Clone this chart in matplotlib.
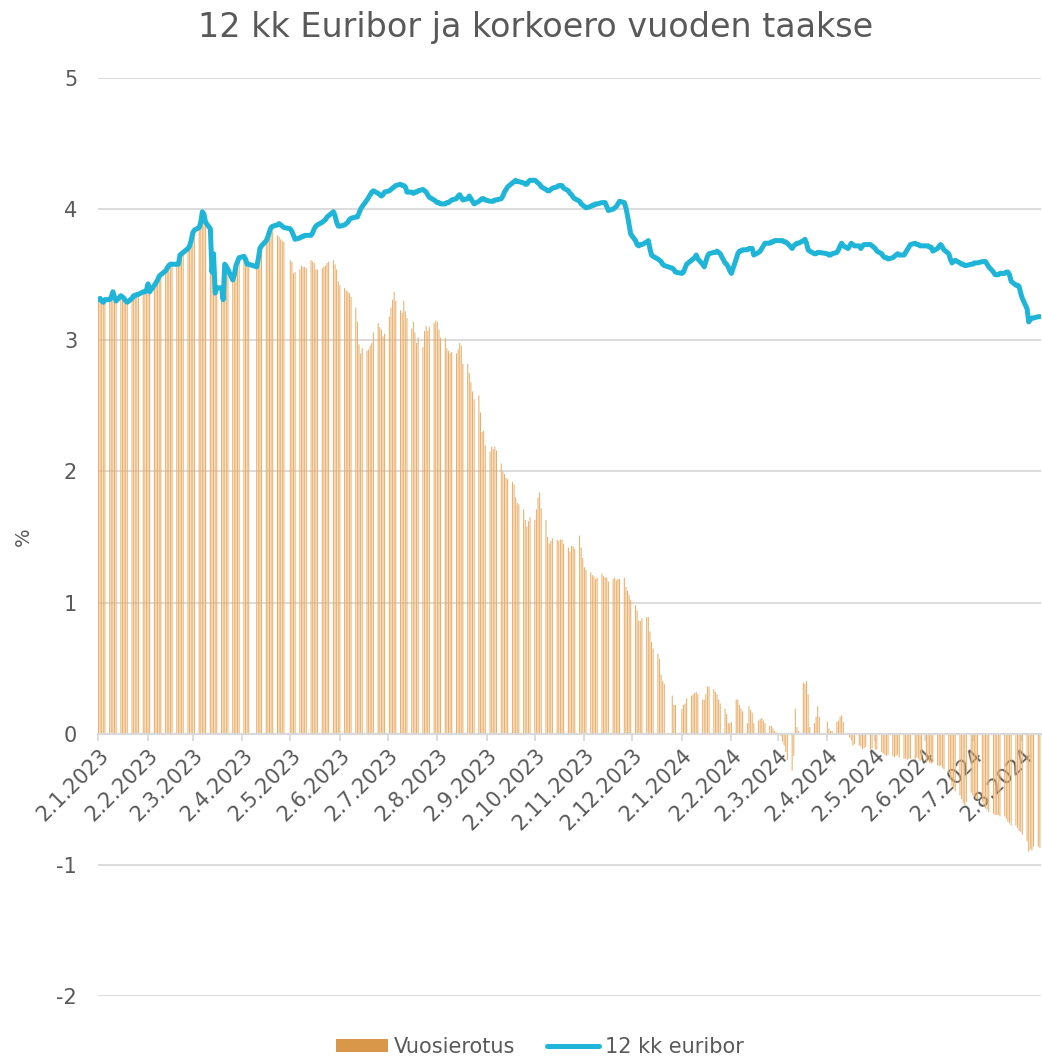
import matplotlib
matplotlib.use("Agg")
import matplotlib.pyplot as plt
import matplotlib.dates as mdates
from matplotlib.lines import Line2D
from matplotlib.patches import Patch
import numpy as np
import pandas as pd

# TARGET holidays (no fixing published)
holidays = ["2023-04-07", "2023-04-10", "2023-05-01", "2023-12-25", "2023-12-26",
            "2024-01-01", "2024-03-29", "2024-04-01", "2024-05-01"]
start_date = "2023-01-02"
end_date = "2024-08-13"

# 12 kk euribor, one value per fixing day (month per line)
euribor_2023 = [
    3.31, 3.32, 3.30, 3.29, 3.31, 3.31, 3.33, 3.37, 3.33, 3.30, 3.34, 3.33, 3.32, 3.30, 3.29, 3.32, 3.34, 3.34, 3.35, 3.35, 3.37, 3.37,
    3.38, 3.43, 3.37, 3.42, 3.44, 3.46, 3.49, 3.50, 3.53, 3.55, 3.57, 3.58, 3.58, 3.58, 3.58, 3.65, 3.66, 3.67, 3.70, 3.72,
    3.76, 3.82, 3.84, 3.86, 3.90, 3.98, 3.96, 3.90, 3.85, 3.52, 3.66, 3.36, 3.40, 3.40, 3.31, 3.58, 3.56, 3.54, 3.46, 3.50, 3.57, 3.60, 3.63,
    3.64, 3.62, 3.58, 3.58, 3.56, 3.62, 3.70, 3.72, 3.76, 3.79, 3.83, 3.86, 3.87, 3.88, 3.89, 3.88, 3.87, 3.86,
    3.85, 3.83, 3.80, 3.77, 3.78, 3.79, 3.79, 3.80, 3.80, 3.80, 3.82, 3.85, 3.87, 3.88, 3.90, 3.91, 3.92, 3.94, 3.95, 3.98, 3.95, 3.90,
    3.87, 3.87, 3.88, 3.89, 3.90, 3.92, 3.93, 3.94, 3.94, 3.97, 4.00, 4.02, 4.07, 4.09, 4.11, 4.13, 4.14, 4.12, 4.11, 4.10, 4.11, 4.13,
    4.14, 4.15, 4.16, 4.17, 4.18, 4.19, 4.18, 4.18, 4.17, 4.13, 4.13, 4.12, 4.13, 4.13, 4.14, 4.15, 4.14, 4.13, 4.11, 4.09, 4.07,
    4.06, 4.05, 4.05, 4.04, 4.04, 4.05, 4.05, 4.06, 4.07, 4.08, 4.10, 4.11, 4.09, 4.07, 4.08, 4.10, 4.08, 4.06, 4.04, 4.06, 4.07, 4.08, 4.08,
    4.07, 4.06, 4.06, 4.06, 4.07, 4.07, 4.08, 4.10, 4.13, 4.15, 4.17, 4.20, 4.21, 4.22, 4.21, 4.21, 4.20, 4.19, 4.19, 4.21, 4.22,
    4.22, 4.21, 4.20, 4.19, 4.17, 4.15, 4.14, 4.14, 4.15, 4.16, 4.17, 4.18, 4.18, 4.18, 4.16, 4.14, 4.12, 4.11, 4.09, 4.08, 4.06, 4.04,
    4.03, 4.02, 4.01, 4.02, 4.03, 4.03, 4.04, 4.04, 4.05, 4.05, 4.05, 4.02, 3.99, 4.00, 4.01, 4.02, 4.04, 4.06, 4.05, 4.01, 3.95, 3.88,
    3.81, 3.76, 3.73, 3.72, 3.73, 3.73, 3.75, 3.76, 3.70, 3.65, 3.64, 3.62, 3.61, 3.60, 3.58, 3.57, 3.55, 3.54, 3.52,
]
euribor_2024 = [
    3.51, 3.52, 3.55, 3.58, 3.61, 3.62, 3.63, 3.65, 3.62, 3.58, 3.56, 3.60, 3.64, 3.66, 3.67, 3.67, 3.68, 3.67, 3.66, 3.59, 3.58, 3.56,
    3.53, 3.51, 3.62, 3.66, 3.68, 3.68, 3.69, 3.69, 3.70, 3.70, 3.70, 3.65, 3.67, 3.68, 3.70, 3.72, 3.74, 3.74, 3.75, 3.75, 3.76,
    3.76, 3.76, 3.76, 3.75, 3.75, 3.74, 3.70, 3.72, 3.73, 3.74, 3.74, 3.76, 3.77, 3.74, 3.69, 3.68, 3.66, 3.66, 3.67, 3.67,
    3.66, 3.65, 3.65, 3.66, 3.67, 3.69, 3.72, 3.74, 3.72, 3.70, 3.72, 3.74, 3.73, 3.72, 3.72, 3.70, 3.72, 3.73, 3.73, 3.73, 3.72,
    3.70, 3.68, 3.66, 3.64, 3.63, 3.63, 3.62, 3.63, 3.64, 3.65, 3.66, 3.65, 3.65, 3.67, 3.69, 3.71, 3.73, 3.74, 3.73, 3.73, 3.72, 3.72,
    3.72, 3.72, 3.71, 3.71, 3.68, 3.70, 3.72, 3.73, 3.71, 3.69, 3.66, 3.62, 3.59, 3.60, 3.61, 3.59, 3.58, 3.58, 3.57, 3.57,
    3.58, 3.58, 3.59, 3.59, 3.59, 3.60, 3.60, 3.60, 3.58, 3.56, 3.52, 3.50, 3.50, 3.50, 3.51, 3.51, 3.52, 3.52, 3.50, 3.45, 3.42, 3.42, 3.41,
    3.36, 3.32, 3.24, 3.14, 3.16, 3.17, 3.17, 3.18, 3.18,
]

# Vuosierotus (difference to the rate one year earlier)
diff_2023 = [
    3.31, 3.32, 3.30, 3.29, 3.31, 3.31, 3.33, 3.37, 3.33, 3.30, 3.34, 3.33, 3.32, 3.30, 3.29, 3.32, 3.34, 3.34, 3.35, 3.35, 3.37, 3.37,
    3.38, 3.43, 3.37, 3.42, 3.44, 3.46, 3.49, 3.50, 3.53, 3.55, 3.57, 3.58, 3.58, 3.58, 3.58, 3.65, 3.66, 3.67, 3.70, 3.72,
    3.76, 3.82, 3.84, 3.86, 3.90, 3.98, 3.96, 3.90, 3.85, 3.52, 3.66, 3.36, 3.40, 3.40, 3.31, 3.58, 3.56, 3.54, 3.46, 3.50, 3.57, 3.60, 3.63,
    3.64, 3.62, 3.58, 3.58, 3.56, 3.62, 3.70, 3.72, 3.74, 3.76, 3.80, 3.82, 3.83, 3.80, 3.79, 3.77, 3.76, 3.75,
    3.61, 3.60, 3.51, 3.52, 3.54, 3.57, 3.56, 3.56, 3.55, 3.61, 3.60, 3.59, 3.54, 3.54, 3.55, 3.56, 3.57, 3.59, 3.60, 3.61, 3.58, 3.54,
    3.45, 3.42, 3.40, 3.38, 3.37, 3.36, 3.33, 3.25, 3.14, 2.97, 2.90, 2.94, 2.92, 2.93, 2.96, 2.98, 3.06, 3.13, 3.10, 3.08, 3.03, 3.05,
    3.18, 3.25, 3.31, 3.37, 3.30, 3.23, 3.21, 3.30, 3.22, 3.17, 3.09, 3.14, 3.06, 2.98, 3.02, 2.95, 3.07, 3.11, 3.07, 3.10, 3.13,
    3.15, 3.14, 3.08, 3.02, 3.02, 2.94, 2.92, 2.90, 2.91, 2.90, 2.93, 2.98, 2.96, 2.82, 2.82, 2.75, 2.68, 2.61, 2.55, 2.58, 2.45, 2.30, 2.31,
    2.20, 2.15, 2.19, 2.17, 2.19, 2.16, 2.06, 2.00, 1.98, 1.95, 1.94, 1.92, 1.90, 1.80, 1.76, 1.75, 1.71, 1.63, 1.58, 1.62, 1.65,
    1.63, 1.71, 1.80, 1.84, 1.72, 1.63, 1.50, 1.45, 1.47, 1.49, 1.48, 1.47, 1.48, 1.48, 1.45, 1.42, 1.39, 1.43, 1.43, 1.41, 1.51, 1.42,
    1.34, 1.27, 1.25, 1.23, 1.21, 1.20, 1.18, 1.19, 1.22, 1.20, 1.19, 1.19, 1.16, 1.18, 1.19, 1.17, 1.18, 1.18, 1.19, 1.12, 1.09, 1.06,
    1.02, 0.98, 0.94, 0.86, 0.86, 0.88, 0.89, 0.89, 0.78, 0.70, 0.65, 0.61, 0.57, 0.45, 0.40, 0.38, 0.29, 0.22, 0.22,
]
diff_2024 = [
    0.19, 0.22, 0.23, 0.27, 0.29, 0.30, 0.31, 0.32, 0.30, 0.26, 0.26, 0.30, 0.36, 0.36, 0.34, 0.32, 0.30, 0.26, 0.23, 0.19, 0.15, 0.08,
    0.08, 0.09, 0.26, 0.26, 0.22, 0.19, 0.17, 0.08, 0.21, 0.18, 0.16, 0.08, 0.10, 0.11, 0.12, 0.10, 0.08, 0.06, 0.06, 0.04, 0.02,
    0.01, -0.02, -0.06, -0.09, -0.14, -0.20, -0.28, -0.17, 0.19, 0.05, 0.02, 0.39, 0.38, 0.40, 0.30, 0.05, 0.08, 0.13, 0.21, 0.13,
    0.09, 0.04, 0.02, 0.02, 0.09, 0.10, 0.13, 0.14, 0.09, -0.01, -0.03, -0.05, -0.09, -0.08, -0.09, -0.10, -0.12, -0.11, -0.10, -0.12, -0.11,
    -0.12, -0.12, -0.14, -0.15, -0.16, -0.17, -0.16, -0.17, -0.18, -0.17, -0.16, -0.18, -0.19, -0.19, -0.20, -0.19, -0.19, -0.20, -0.18, -0.19, -0.21, -0.20,
    -0.22, -0.21, -0.22, -0.23, -0.22, -0.24, -0.25, -0.24, -0.26, -0.27, -0.30, -0.35, -0.40, -0.42, -0.44, -0.47, -0.50, -0.53, -0.55, -0.52,
    -0.45, -0.47, -0.48, -0.50, -0.50, -0.52, -0.55, -0.57, -0.58, -0.60, -0.61, -0.62, -0.62, -0.62, -0.63, -0.63, -0.65, -0.67, -0.68, -0.70, -0.70, -0.72, -0.74,
    -0.75, -0.77, -0.82, -0.90, -0.88, -0.89, -0.86, -0.86, -0.87,
]

title = "12 kk Euribor ja korkoero vuoden taakse"
bar_label = "Vuosierotus"
line_label = "12 kk euribor"

text_color = "#595959"
grid_color = "#D9D9D9"
bar_color = "#EAAE69"
legend_bar_color = "#D9974A"
line_color = "#1FB5D9"

dates = pd.bdate_range(start_date, end_date, freq="C", holidays=holidays)
euribor = np.array(euribor_2023 + euribor_2024)
diff = np.array(diff_2023 + diff_2024)
assert len(dates) == len(euribor) == len(diff), (len(dates), len(euribor), len(diff))

tick_dates = pd.date_range("2023-01-02", "2024-08-02", freq=pd.DateOffset(months=1))
tick_labels = [f"{d.day}.{d.month}.{d.year}" for d in tick_dates]

W, H = 1042, 1059
fig = plt.figure(figsize=(W / 100, H / 100), dpi=100, facecolor="white")
ax = fig.add_axes([98 / W, 1 - 996 / H, (1041 - 98) / W, (996 - 78) / H])

x = mdates.date2num(dates)
ax.bar(x, diff, width=0.65, color=bar_color, linewidth=0, zorder=2, snap=False)
ax.plot(x, euribor, color=line_color, lw=3.6, zorder=4,
        solid_joinstyle="round", solid_capstyle="round")

d0 = mdates.date2num(pd.Timestamp(start_date))
ax.set_xlim(d0 - 0.3, d0 + 589.7)
ax.set_ylim(-2, 5)
ax.set_yticks(range(-2, 6))
ax.set_yticklabels([str(v) for v in range(-2, 6)])
ax.yaxis.grid(True, color=grid_color, lw=1.3, zorder=0)
ax.set_axisbelow(True)

for s in ["top", "right", "left"]:
    ax.spines[s].set_visible(False)
ax.spines["bottom"].set_position(("data", 0))
ax.spines["bottom"].set_color(grid_color)
ax.spines["bottom"].set_linewidth(1.5)
ax.spines["bottom"].set_zorder(3)

ax.tick_params(axis="y", length=0, pad=15, labelsize=15, labelcolor=text_color)
ax.tick_params(axis="x", direction="out", length=5, width=1.3, color=grid_color,
               pad=3, labelsize=15, labelcolor=text_color)

ax.set_xticks(mdates.date2num(tick_dates))
ax.set_xticklabels(tick_labels)
for lbl in ax.get_xticklabels():
    lbl.set_rotation(45)
    lbl.set_horizontalalignment("right")
    lbl.set_rotation_mode("anchor")

ax.set_ylabel("%", fontsize=14, color=text_color)
ax.yaxis.set_label_coords(-(98 - 33) / (1041 - 98), 0.5)

fig.text(536 / W, 1 - 27 / H, title, ha="center", va="center",
         fontsize=24, color=text_color)

handles = [Patch(facecolor=legend_bar_color, edgecolor="none"),
           Line2D([], [], color=line_color, lw=3.6, solid_capstyle="round")]
fig.legend(handles, [bar_label, line_label], loc="center",
           bbox_to_anchor=(540 / W, 1 - 1047 / H), ncol=2, frameon=False,
           fontsize=15, labelcolor=text_color, handlelength=2.5,
           handleheight=0.6, handletextpad=0.3, columnspacing=1.5)

fig.savefig("out.png", dpi=100, facecolor="white")
